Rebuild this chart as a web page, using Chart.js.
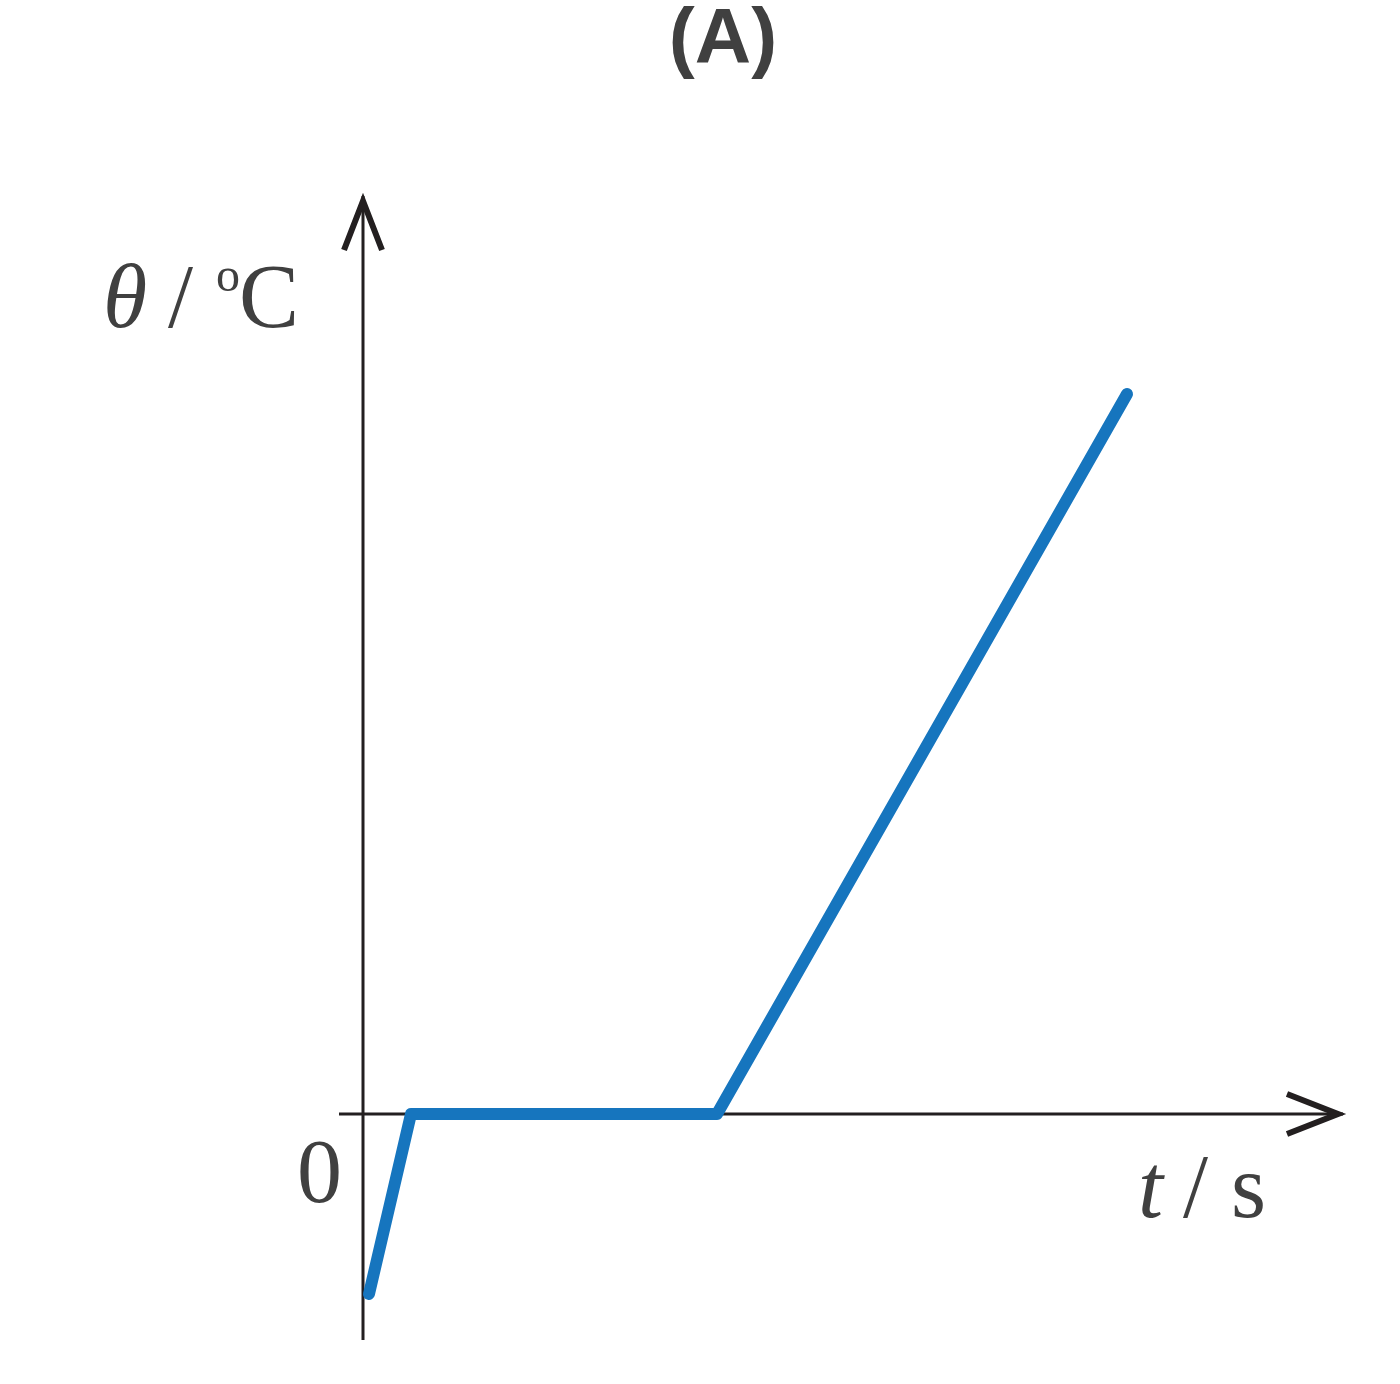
<!DOCTYPE html>
<html>
<head>
<meta charset="utf-8">
<script src="https://cdn.jsdelivr.net/npm/chart.js@4/dist/chart.umd.min.js"></script>
<style>
html, body { margin: 0; padding: 0; background: #fff; }
#wrap { width: 1400px; height: 1384px; position: relative; }
</style>
</head>
<body>
<div id="wrap"><canvas id="chart"></canvas></div>
<script>
// DATA
const timeValues = [0.15, 1.2, 8.85, 19.1];
const tempValues = [-4.5, 0, 0, 18];
const tickLabels = ["0"];
const titleText = "(A)";

const points = timeValues.map((t, i) => ({ x: t, y: tempValues[i] }));

const INK = '#231f20';
const TEXT = '#404040';

// AXES + ARROWS (under the line), TEXT on top
const axesPlugin = {
    id: 'axes',
    beforeDatasetsDraw(chart) {
        const { ctx, chartArea, scales } = chart;
        const x0 = scales.x.getPixelForValue(0);
        const y0 = scales.y.getPixelForValue(0);
        ctx.save();
        ctx.strokeStyle = INK;
        ctx.lineWidth = 3;
        ctx.beginPath();
        ctx.moveTo(x0, chartArea.bottom);
        ctx.lineTo(x0, chartArea.top + 4);
        ctx.moveTo(chartArea.left, y0);
        ctx.lineTo(chartArea.right - 4, y0);
        ctx.stroke();

        ctx.lineWidth = 6;
        ctx.lineJoin = 'miter';
        ctx.lineCap = 'butt';
        ctx.beginPath();
        ctx.moveTo(x0 - 19, chartArea.top + 58);
        ctx.lineTo(x0, chartArea.top + 9);
        ctx.lineTo(x0 + 19, chartArea.top + 58);
        ctx.moveTo(chartArea.right - 60, y0 - 20);
        ctx.lineTo(chartArea.right - 9, y0);
        ctx.lineTo(chartArea.right - 60, y0 + 20);
        ctx.stroke();
        ctx.restore();
    },
    afterDraw(chart) {
        const { ctx, scales, width } = chart;
        const x0 = scales.x.getPixelForValue(0);
        const y0 = scales.y.getPixelForValue(0);
        ctx.save();
        ctx.fillStyle = TEXT;
        ctx.textBaseline = 'alphabetic';

        // title
        ctx.font = 'bold 78px "Liberation Sans", Arial, sans-serif';
        ctx.textAlign = 'center';
        ctx.fillText(titleText, width / 2 + 23, 63);

        // y label  θ / ºC
        ctx.textAlign = 'left';
        ctx.font = 'italic 90px "Liberation Serif", "Times New Roman", serif';
        ctx.fillText('θ', x0 - 260, 327);
        ctx.font = '90px "Liberation Serif", "Times New Roman", serif';
        ctx.fillText('/', x0 - 195, 327);
        ctx.font = '48px "Liberation Serif", "Times New Roman", serif';
        ctx.fillText('o', x0 - 147, 291);
        ctx.font = '90px "Liberation Serif", "Times New Roman", serif';
        ctx.fillText('C', x0 - 124, 327);

        // zero tick label
        ctx.fillText(tickLabels[0], x0 - 66, y0 + 88);

        // x label  t / s
        ctx.font = 'italic 90px "Liberation Serif", "Times New Roman", serif';
        ctx.fillText('t', 1138, y0 + 103);
        ctx.font = '90px "Liberation Serif", "Times New Roman", serif';
        ctx.fillText('/', 1183, y0 + 103);
        ctx.fillText('s', 1231, y0 + 103);
        ctx.restore();
    }
};

new Chart(document.getElementById('chart'), {
    type: 'line',
    data: {
        datasets: [{
            data: points,
            borderColor: '#1675be',
            borderWidth: 12,
            borderCapStyle: 'round',
            borderJoinStyle: 'round',
            pointRadius: 0,
            tension: 0,
            fill: false,
            clip: false
        }]
    },
    options: {
        responsive: true,
        maintainAspectRatio: false,
        animation: false,
        events: [],
        layout: { padding: { left: 339, right: 53, top: 192, bottom: 44 } },
        scales: {
            x: { type: 'linear', min: -0.6, max: 24.6, display: false },
            y: { type: 'linear', min: -5.65, max: 23.05, display: false }
        },
        plugins: {
            legend: { display: false },
            tooltip: { enabled: false },
            title: { display: false }
        }
    },
    plugins: [axesPlugin]
});
</script>
</body>
</html>
